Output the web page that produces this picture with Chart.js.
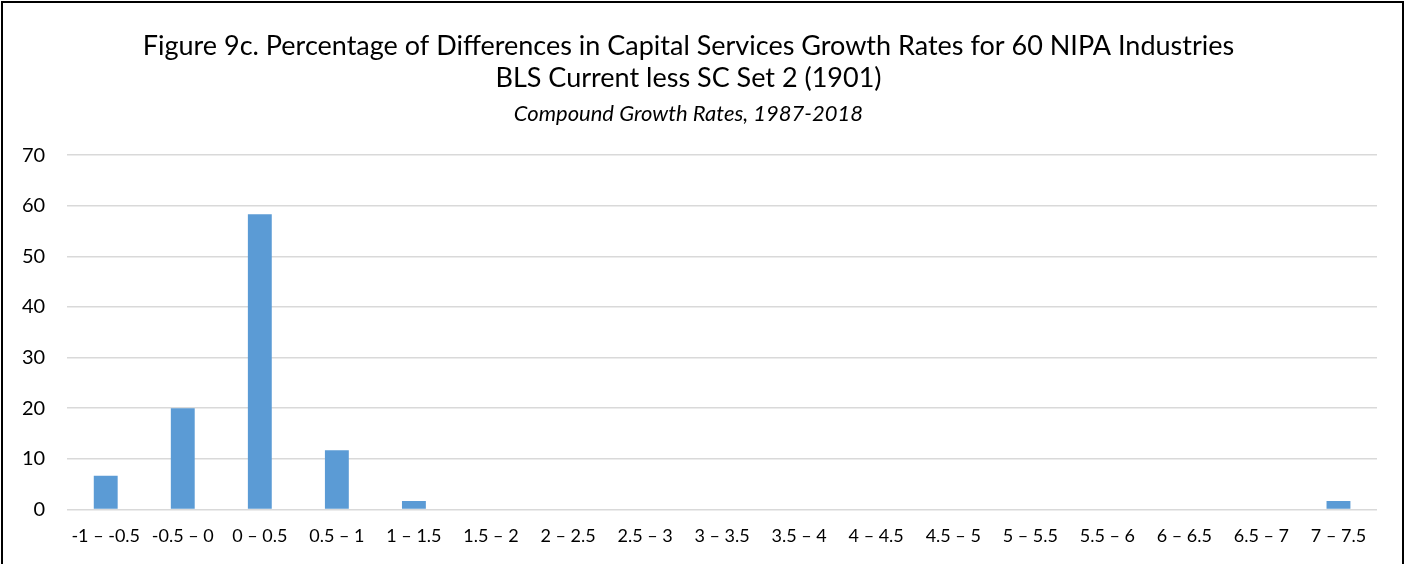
<!DOCTYPE html>
<html>
<head>
<meta charset="utf-8">
<script src="https://cdn.jsdelivr.net/npm/chart.js@4"></script>
<style>
  html, body { margin: 0; padding: 0; background: #fff; }
  #wrap {
    position: absolute; left: 1px; top: 1px;
    width: 1403px; height: 570px;
    border: 2px solid #000; box-sizing: border-box;
  }
  #cv { position: absolute; left: 0; top: 0; }
</style>
</head>
<body>
<div id="wrap"></div>
<canvas id="cv" width="1408" height="564"></canvas>
<script>
// bins of the difference in growth rates (percentage points)
var binLabels = ['-1 \u2013 -0.5', '-0.5 \u2013 0', '0 \u2013 0.5', '0.5 \u2013 1', '1 \u2013 1.5',
  '1.5 \u2013 2', '2 \u2013 2.5', '2.5 \u2013 3', '3 \u2013 3.5', '3.5 \u2013 4', '4 \u2013 4.5',
  '4.5 \u2013 5', '5 \u2013 5.5', '5.5 \u2013 6', '6 \u2013 6.5', '6.5 \u2013 7', '7 \u2013 7.5'];
// percent of the 60 industries in each bin
var pctIndustries = [6.67, 20, 58.33, 11.67, 1.67, 0, 0, 0, 0, 0, 0, 0, 0, 0, 0, 0, 1.67];
var yTicks = [0, 10, 20, 30, 40, 50, 60, 70];

var fontFam = 'Lato, "Open Sans", sans-serif';

var ctx = document.getElementById('cv').getContext('2d');
var chart = new Chart(ctx, {
  type: 'bar',
  data: {
    labels: binLabels,
    datasets: [{
      data: pctIndustries,
      backgroundColor: '#5b9bd5',
      barPercentage: 0.62,
      categoryPercentage: 0.5
    }]
  },
  options: {
    responsive: false,
    animation: false,
    layout: { padding: { left: 0, right: 31, top: 30, bottom: 9 } },
    plugins: {
      legend: { display: false },
      tooltip: { enabled: false },
      title: {
        display: true,
        text: ['Figure 9c. Percentage of Differences in Capital Services Growth Rates for 60 NIPA Industries',
               'BLS Current less SC Set 2 (1901)'],
        color: '#000',
        font: { family: fontFam, size: 27, weight: 'normal', lineHeight: 1.2 },
        padding: { top: 0, bottom: 6 }
      },
      subtitle: {
        display: true,
        text: 'Compound Growth Rates, 1987-2018',
        color: '#000',
        font: { family: fontFam, size: 22, style: 'italic', weight: 'normal', lineHeight: 1.2 },
        padding: { top: 0, bottom: 28 }
      }
    },
    scales: {
      x: {
        grid: { display: false },
        border: { display: false },
        ticks: { color: '#000', font: { family: fontFam, size: 18 }, maxRotation: 0, autoSkip: false, padding: 8 }
      },
      y: {
        min: 0, max: 70,
        afterBuildTicks: function (axis) { axis.ticks = yTicks.map(function (v) { return { value: v }; }); },
        grid: { color: '#d9d9d9', lineWidth: 1.5, drawTicks: false },
        border: { display: false },
        ticks: { color: '#000', font: { family: fontFam, size: 20 }, padding: 22 }
      }
    }
  }
});
</script>
</body>
</html>
